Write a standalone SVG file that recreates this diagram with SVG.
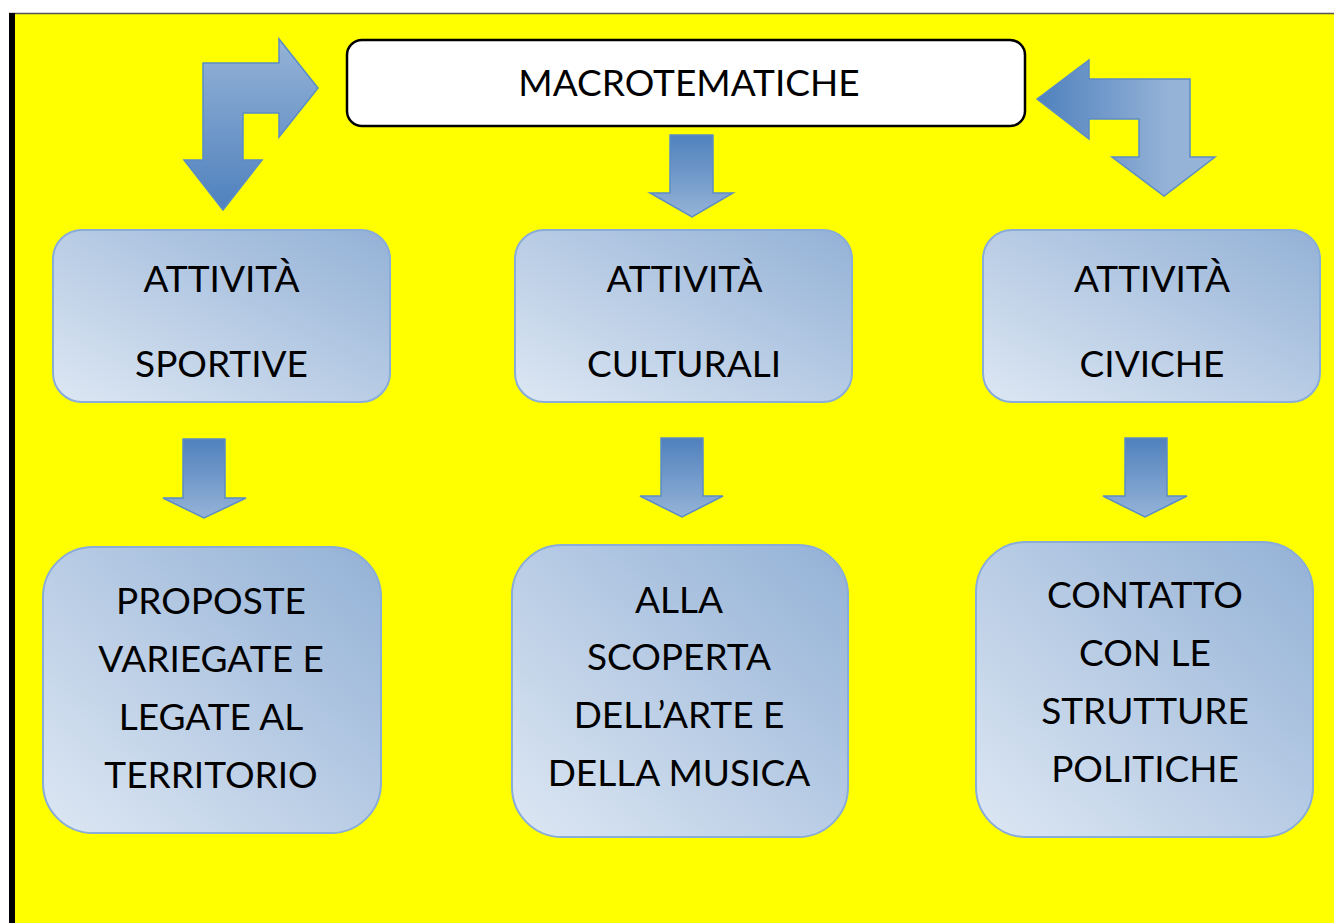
<svg xmlns="http://www.w3.org/2000/svg" width="1334" height="923" viewBox="0 0 1334 923">
<defs>
<linearGradient id="boxGrad" x1="0" y1="1" x2="1" y2="0">
<stop offset="0" stop-color="#dde7f3"/>
<stop offset="1" stop-color="#93b1d6"/>
</linearGradient>
<linearGradient id="arrDown" x1="0" y1="0" x2="0" y2="1">
<stop offset="0" stop-color="#4f81bd"/>
<stop offset="1" stop-color="#95b3d7"/>
</linearGradient>
<linearGradient id="arrUpLight" x1="0" y1="0" x2="0" y2="1">
<stop offset="0" stop-color="#95b3d7"/>
<stop offset="1" stop-color="#4f81bd"/>
</linearGradient>
<linearGradient id="arrLeftDark" x1="0" y1="0" x2="1" y2="0">
<stop offset="0" stop-color="#4f81bd"/>
<stop offset="0.75" stop-color="#95b3d7"/>
<stop offset="1" stop-color="#95b3d7"/>
</linearGradient>
</defs>
<style>
.box{fill:url(#boxGrad);stroke:#8aacd8;stroke-width:2}
.main{fill:#ffffff;stroke:#000000;stroke-width:2.5}
.arrow{stroke:#5b8cc6;stroke-width:1.5;stroke-linejoin:miter}
.t{font-family:Lato,"Liberation Sans",sans-serif;font-size:37px;fill:#000000;text-anchor:middle}
</style>
<rect x="0" y="0" width="1334" height="923" fill="#ffffff"/>
<rect x="12" y="14" width="1322" height="909" fill="#ffff00"/>
<line x1="9" y1="13.5" x2="1334" y2="13.5" stroke="#555555" stroke-width="1.5"/>
<rect x="9" y="13" width="6" height="910" fill="#000000"/>

<g id="connectors">
<path class="arrow" fill="url(#arrUpLight)" d="M203,63 L279,63 L279,39 L318,88 L279,137 L279,113 L243,113 L243,160 L262,160 L223,210 L184,160 L203,160 Z"/>
<path class="arrow" fill="url(#arrLeftDark)" d="M1037,99 L1089,60 L1089,79 L1190,79 L1190,157 L1215,157 L1164,196 L1112,157 L1139,157 L1139,119 L1089,119 L1089,139 Z"/>
<path class="arrow" fill="url(#arrDown)" d="M670,135 L713,135 L713,193 L733,193 L692,217 L650,193 L670,193 Z"/>
<path class="arrow" fill="url(#arrDown)" d="M183,439 L225,439 L225,498 L246,498 L204,518 L163,498 L183,498 Z"/>
<path class="arrow" fill="url(#arrDown)" d="M661,438 L703,438 L703,496 L723,496 L682,517 L640,496 L661,496 Z"/>
<path class="arrow" fill="url(#arrDown)" d="M1125,438 L1167,438 L1167,496 L1187,496 L1145,517 L1103,496 L1125,496 Z"/>
</g>

<g id="macrotematiche">
<rect class="main" x="347" y="40" width="678" height="86" rx="15"/>
<text class="t" x="689" y="96">MACROTEMATICHE</text>
</g>

<g id="sportive">
<rect class="box" x="53" y="230" width="337" height="172" rx="29"/>
<text class="t" x="221.5" y="292">ATTIVITÀ</text>
<text class="t" x="221.5" y="377">SPORTIVE</text>
</g>

<g id="culturali">
<rect class="box" x="515" y="230" width="337" height="172" rx="29"/>
<text class="t" x="684.5" y="292">ATTIVITÀ</text>
<text class="t" x="684" y="377">CULTURALI</text>
</g>

<g id="civiche">
<rect class="box" x="983" y="230" width="337" height="172" rx="29"/>
<text class="t" x="1152" y="292">ATTIVITÀ</text>
<text class="t" x="1152" y="377">CIVICHE</text>
</g>

<g id="proposte">
<rect class="box" x="43" y="547" width="338" height="286" rx="50"/>
<text class="t" x="211" y="614">PROPOSTE</text>
<text class="t" x="211" y="672">VARIEGATE E</text>
<text class="t" x="211" y="730">LEGATE AL</text>
<text class="t" x="211" y="788">TERRITORIO</text>
</g>

<g id="arte">
<rect class="box" x="512" y="545" width="336" height="292" rx="50"/>
<text class="t" x="679" y="613">ALLA</text>
<text class="t" x="679" y="670">SCOPERTA</text>
<text class="t" x="679" y="728">DELL’ARTE E</text>
<text class="t" x="679" y="786">DELLA MUSICA</text>
</g>

<g id="politiche">
<rect class="box" x="976" y="542" width="337" height="295" rx="50"/>
<text class="t" x="1145" y="608">CONTATTO</text>
<text class="t" x="1145" y="666">CON LE</text>
<text class="t" x="1145" y="724">STRUTTURE</text>
<text class="t" x="1145" y="782">POLITICHE</text>
</g>
</svg>
